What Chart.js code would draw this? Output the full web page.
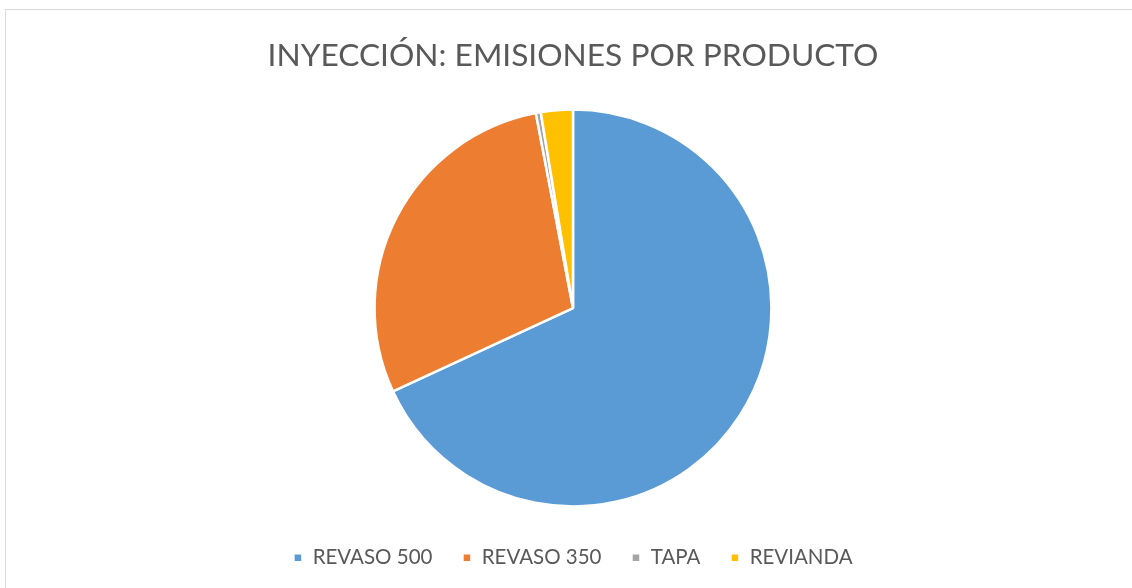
<!DOCTYPE html>
<html>
<head>
<meta charset="utf-8">
<script src="https://cdn.jsdelivr.net/npm/chart.js@4"></script>
<style>
  html, body { margin: 0; padding: 0; background: #fff; overflow: hidden; }
  #marco { position: absolute; left: 5px; top: 9px; width: 1200px; height: 700px; border: 1px solid #d9d9d9; box-sizing: border-box; }
  #caja { position: absolute; left: 0; top: 0; width: 1132px; height: 588px; }
</style>
</head>
<body>
<div id="marco"></div>
<div id="caja"><canvas id="graficoPizza"></canvas></div>
<script>
// Datos del gráfico
const productos = ["REVASO 500", "REVASO 350", "TAPA", "REVIANDA"];
const emisiones = [68.1, 28.9, 0.4, 2.6];
const colores = ["#5b9bd5", "#ed7d31", "#a5a5a5", "#ffc000"];

const ctx = document.getElementById("graficoPizza").getContext("2d");

new Chart(ctx, {
  type: "pie",
  data: {
    labels: productos,
    datasets: [{
      data: emisiones,
      backgroundColor: colores,
      borderColor: "#ffffff",
      borderWidth: 2.5,
      radius: "95.3%"
    }]
  },
  options: {
    responsive: true,
    maintainAspectRatio: false,
    animation: false,
    layout: { padding: { left: 14, top: 0, bottom: 10 } },
    plugins: {
      title: {
        display: true,
        text: "INYECCIÓN: EMISIONES POR PRODUCTO",
        color: "#595959",
        font: { family: "Lato", size: 31.7, weight: "normal" },
        padding: { top: 37, bottom: 23.5 }
      },
      legend: {
        position: "bottom",
        labels: {
          color: "#595959",
          font: { family: "Lato", size: 20.5 },
          boxWidth: 9,
          boxHeight: 9,
          padding: 30
        }
      },
      tooltip: { enabled: false }
    }
  }
});
</script>
</body>
</html>
